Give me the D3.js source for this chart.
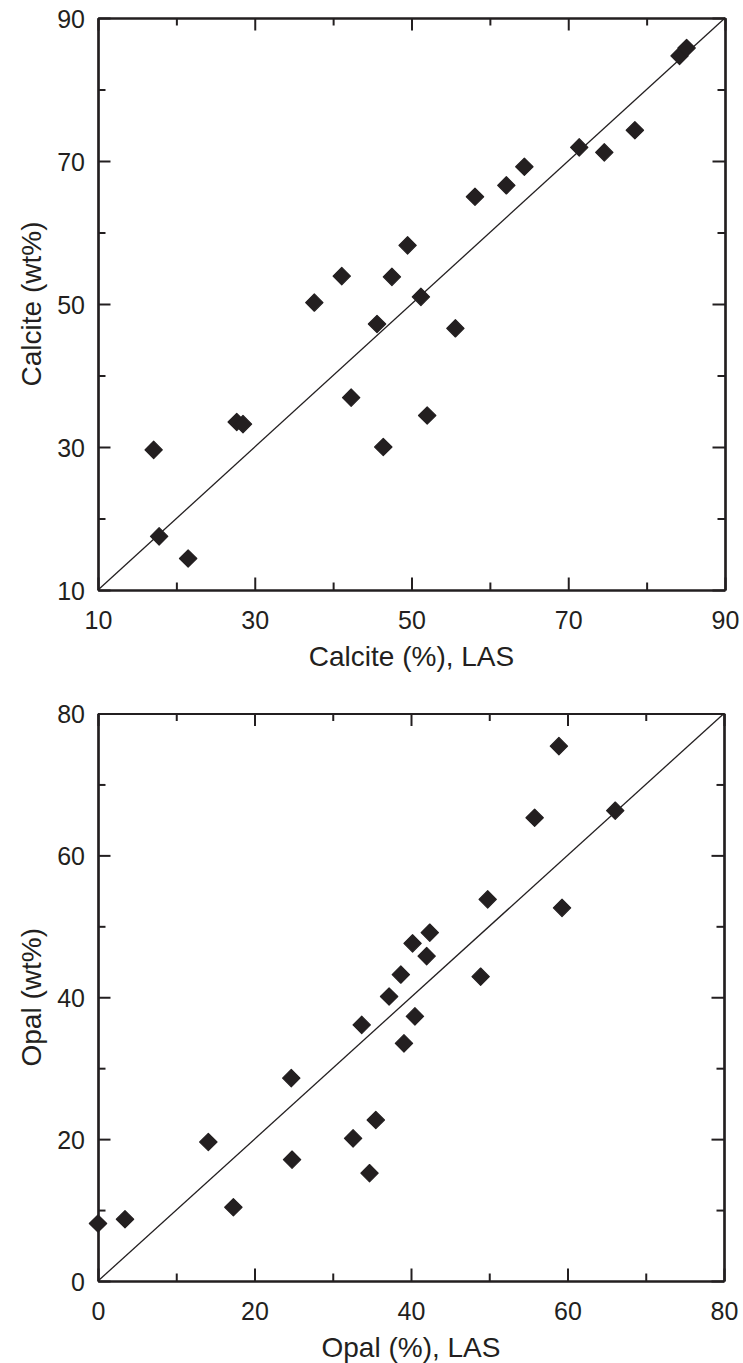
<!DOCTYPE html>
<html>
<head>
<meta charset="utf-8">
<script src="https://cdn.jsdelivr.net/npm/d3@7"></script>
<style>
  html, body { margin: 0; padding: 0; background: #fff; }
  svg { display: block; }
  text { font-family: "Liberation Sans", Arial, Helvetica, sans-serif; fill: #231f20; }
</style>
</head>
<body>
<script>
// ---- Data ----
const calciteLAS = [17.1, 17.8, 21.5, 27.7, 28.5, 37.6, 41.1, 42.3, 45.6, 46.4, 47.5, 49.5, 51.2, 52.0, 55.6, 58.1, 62.1, 64.4, 71.4, 74.6, 78.5, 84.2, 85.1];
const calciteWt  = [29.6, 17.5, 14.4, 33.5, 33.2, 50.2, 53.9, 36.9, 47.2, 30.0, 53.8, 58.2, 51.0, 34.4, 46.6, 65.0, 66.6, 69.2, 71.9, 71.2, 74.3, 84.7, 85.8];

const opalLAS = [0.0, 3.45, 14.1, 17.3, 24.7, 24.8, 33.7, 32.6, 35.5, 34.7, 37.2, 38.7, 40.2, 42.0, 42.4, 40.5, 39.1, 49.8, 48.9, 58.9, 55.8, 66.1, 59.3];
const opalWt  = [8.1, 8.7, 19.6, 10.4, 28.6, 17.1, 36.1, 20.1, 22.7, 15.2, 40.1, 43.2, 47.6, 45.8, 49.1, 37.3, 33.5, 53.8, 42.9, 75.4, 65.3, 66.3, 52.6];

const calciteMajorTicks = [10, 30, 50, 70, 90];
const calciteMinorTicks = [20, 40, 60, 80];
const opalMajorTicks = [0, 20, 40, 60, 80];
const opalMinorTicks = [10, 30, 50, 70];

const calciteXTitle = "Calcite (%), LAS";
const calciteYTitle = "Calcite (wt%)";
const opalXTitle = "Opal (%), LAS";
const opalYTitle = "Opal (wt%)";

// ---- Drawing ----
const W = 743, H = 1363;
const ink = "#231f20";
const svg = d3.select("body").append("svg").attr("width", W).attr("height", H);

function panel(cfg) {
  const x = d3.scaleLinear().domain(cfg.domain).range([cfg.left, cfg.right]);
  const y = d3.scaleLinear().domain(cfg.domain).range([cfg.bottom, cfg.top]);
  const g = svg.append("g");

  // 1:1 line
  g.append("line")
    .attr("x1", x(cfg.domain[0])).attr("y1", y(cfg.domain[0]))
    .attr("x2", x(cfg.domain[1])).attr("y2", y(cfg.domain[1]))
    .attr("stroke", ink).attr("stroke-width", 1.3);

  function styleAxis(sel, showLabels) {
    sel.select(".domain").attr("stroke", ink).attr("stroke-width", 2.2);
    sel.selectAll(".tick line").attr("stroke", ink).attr("stroke-width", 2);
    sel.selectAll(".tick text").style("font-size", "25px").attr("fill", ink);
    if (!showLabels) sel.selectAll(".tick text").remove();
  }

  const majLen = 12.5, minLen = 7.5;

  // bottom
  const gb = g.append("g").attr("transform", `translate(0,${cfg.bottom})`)
    .call(d3.axisBottom(x).tickValues(cfg.major).tickSizeInner(-majLen).tickSizeOuter(0).tickPadding(majLen + 9));
  styleAxis(gb, true);
  const gbm = g.append("g").attr("transform", `translate(0,${cfg.bottom})`)
    .call(d3.axisBottom(x).tickValues(cfg.minor).tickSizeInner(-minLen).tickSizeOuter(0).tickFormat(""));
  styleAxis(gbm, false);

  // left
  const gl = g.append("g").attr("transform", `translate(${cfg.left},0)`)
    .call(d3.axisLeft(y).tickValues(cfg.major).tickSizeInner(-majLen).tickSizeOuter(0).tickPadding(13));
  styleAxis(gl, true);
  gl.selectAll(".tick text").attr("x", -13).attr("dy", "0.36em");
  const glm = g.append("g").attr("transform", `translate(${cfg.left},0)`)
    .call(d3.axisLeft(y).tickValues(cfg.minor).tickSizeInner(-minLen).tickSizeOuter(0).tickFormat(""));
  styleAxis(glm, false);

  // top
  const gt = g.append("g").attr("transform", `translate(0,${cfg.top})`)
    .call(d3.axisTop(x).tickValues(cfg.major).tickSizeInner(-majLen).tickSizeOuter(0).tickFormat(""));
  styleAxis(gt, false);
  const gtm = g.append("g").attr("transform", `translate(0,${cfg.top})`)
    .call(d3.axisTop(x).tickValues(cfg.minor).tickSizeInner(-minLen).tickSizeOuter(0).tickFormat(""));
  styleAxis(gtm, false);

  // right
  const gr = g.append("g").attr("transform", `translate(${cfg.right},0)`)
    .call(d3.axisRight(y).tickValues(cfg.major).tickSizeInner(-majLen).tickSizeOuter(0).tickFormat(""));
  styleAxis(gr, false);
  const grm = g.append("g").attr("transform", `translate(${cfg.right},0)`)
    .call(d3.axisRight(y).tickValues(cfg.minor).tickSizeInner(-minLen).tickSizeOuter(0).tickFormat(""));
  styleAxis(grm, false);

  // points
  const sym = d3.symbol(d3.symbolSquare, 150);
  g.append("g").selectAll("path")
    .data(cfg.xs.map((v, i) => [v, cfg.ys[i]]))
    .join("path")
    .attr("d", sym)
    .attr("transform", d => `translate(${x(d[0])},${y(d[1])}) rotate(45)`)
    .attr("fill", ink).attr("stroke", ink).attr("stroke-width", 1.2).attr("stroke-linejoin", "round");

  // titles
  g.append("text")
    .attr("x", (cfg.left + cfg.right) / 2).attr("y", cfg.bottom + 75.5)
    .attr("text-anchor", "middle").style("font-size", "28px")
    .text(cfg.xTitle);
  g.append("text")
    .attr("transform", `translate(41,${(cfg.top + cfg.bottom) / 2}) rotate(-90)`)
    .attr("text-anchor", "middle").style("font-size", "28px")
    .text(cfg.yTitle);
}

panel({
  domain: [10, 90], left: 98, right: 725, top: 18, bottom: 590,
  major: calciteMajorTicks, minor: calciteMinorTicks,
  xs: calciteLAS, ys: calciteWt, xTitle: calciteXTitle, yTitle: calciteYTitle
});
panel({
  domain: [0, 80], left: 98, right: 724, top: 713.5, bottom: 1281,
  major: opalMajorTicks, minor: opalMinorTicks,
  xs: opalLAS, ys: opalWt, xTitle: opalXTitle, yTitle: opalYTitle
});
</script>
</body>
</html>
